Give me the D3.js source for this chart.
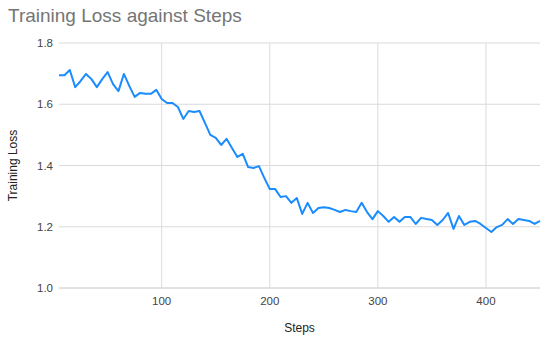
<html>
<head>
  <script src="https://d3js.org/d3.v7.min.js"></script>
  <style>
    body { margin: 0; background: #fff; font-family: Arial, "Liberation Sans", sans-serif; }
  </style>
</head>
<body>
<script>

// training loss, every 5 steps
steps = d3.range(5, 451, 5)
loss = [1.695, 1.695, 1.712, 1.656, 1.676, 1.699, 1.682, 1.656, 1.682, 1.705,
        1.666, 1.643, 1.699, 1.660, 1.624, 1.637, 1.634, 1.634, 1.647, 1.617,
        1.604, 1.604, 1.591, 1.552, 1.578, 1.575, 1.578, 1.539, 1.500, 1.490,
        1.467, 1.487, 1.457, 1.428, 1.438, 1.395, 1.392, 1.398, 1.359, 1.323,
        1.323, 1.297, 1.300, 1.278, 1.294, 1.242, 1.278, 1.245, 1.261, 1.264,
        1.261, 1.255, 1.248, 1.255, 1.251, 1.248, 1.278, 1.248, 1.225, 1.251,
        1.235, 1.216, 1.232, 1.216, 1.232, 1.232, 1.209, 1.229, 1.225, 1.222,
        1.206, 1.222, 1.245, 1.193, 1.235, 1.206, 1.216, 1.219, 1.209, 1.196,
        1.183, 1.199, 1.206, 1.225, 1.209, 1.225, 1.222, 1.219, 1.209, 1.219]
xTicks = [100, 200, 300, 400]
yTicks = [1.0, 1.2, 1.4, 1.6, 1.8]

w = 550;
h = 343;
// plot area (window.top is taken, so prefix these)
pLeft = 59, pRight = 540, pTop = 43, pBottom = 288;

svg = d3.select("body").append("svg")
  .attr("width", w)
  .attr("height", h)

x = d3.scaleLinear().domain([5, 450]).range([pLeft, pRight])
y = d3.scaleLinear().domain([1.0, 1.8]).range([pBottom, pTop])

// horizontal grid
svg.append("g").selectAll("line")
  .data(yTicks)
  .enter().append("line")
  .attr("x1", pLeft).attr("x2", pRight)
  .attr("y1", d => y(d)).attr("y2", d => y(d))
  .attr("stroke", d => d == 1.0 ? "#c4c4c4" : "#dadada")
  .attr("stroke-width", 1)

// vertical grid
svg.append("g").selectAll("line")
  .data(xTicks)
  .enter().append("line")
  .attr("x1", d => x(d)).attr("x2", d => x(d))
  .attr("y1", pTop).attr("y2", pBottom)
  .attr("stroke", "#dadada")
  .attr("stroke-width", 1)

svg.append("g").selectAll("text")
  .data(yTicks)
  .enter().append("text")
  .attr("x", pLeft - 6)
  .attr("y", d => y(d) + 4)
  .attr("text-anchor", "end")
  .attr("font-size", 11.5)
  .attr("fill", "#444")
  .text(d => d.toFixed(1))

svg.append("g").selectAll("text")
  .data(xTicks)
  .enter().append("text")
  .attr("x", d => x(d))
  .attr("y", pBottom + 17)
  .attr("text-anchor", "middle")
  .attr("font-size", 11.5)
  .attr("fill", "#444")
  .text(d => d)

line = d3.line()
  .x((d, i) => x(steps[i]))
  .y(d => y(d))

svg.append("path")
  .datum(loss)
  .attr("d", line)
  .attr("fill", "none")
  .attr("stroke", "#1a8cff")
  .attr("stroke-width", 2)
  .attr("stroke-linejoin", "round")

svg.append("text")
  .attr("x", 8)
  .attr("y", 22)
  .attr("font-size", 19)
  .attr("fill", "#757575")
  .text("Training Loss against Steps")

svg.append("text")
  .attr("x", (pLeft + pRight) / 2)
  .attr("y", 332)
  .attr("text-anchor", "middle")
  .attr("font-size", 12)
  .attr("fill", "#222")
  .text("Steps")

svg.append("text")
  .attr("transform", "translate(17," + (pTop + pBottom) / 2 + ") rotate(-90)")
  .attr("text-anchor", "middle")
  .attr("font-size", 12)
  .attr("fill", "#222")
  .text("Training Loss")

</script>
</body>
</html>
